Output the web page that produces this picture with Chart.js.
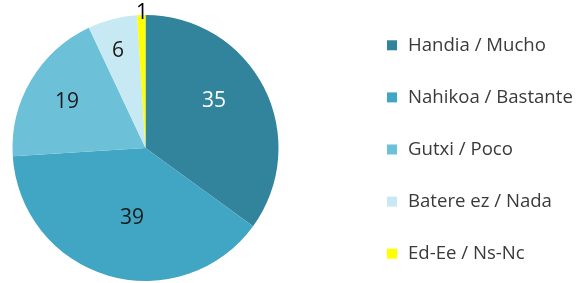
<!DOCTYPE html>
<html>
<head>
<meta charset="utf-8">
<script src="https://cdn.jsdelivr.net/npm/chart.js@4/dist/chart.umd.min.js"></script>
<style>
  html, body { margin: 0; padding: 0; background: #ffffff; }
  #wrap { position: relative; width: 576px; height: 283px; }
</style>
</head>
<body>
<div id="wrap"><canvas id="c" width="576" height="283"></canvas></div>
<script>
const categories = ["Handia / Mucho", "Nahikoa / Bastante", "Gutxi / Poco", "Batere ez / Nada", "Ed-Ee / Ns-Nc"];
const values = [35, 39, 19, 6, 1];
const sliceColors = ["#31849B", "#41A5C4", "#6CC1D8", "#C6E9F3", "#FFFF00"];
const labelColors = ["#ffffff", "#1a1a1a", "#1a1a1a", "#1a1a1a", "#000000"];
// label placement: fraction of radius, and angular nudge (degrees)
const labelRadius = [0.625, 0.536, 0.682, 0.76, 1.015];
const labelNudge = [-7.5, -5.3, -0.5, -1.4, 0.3];

const FONT = "'Open Sans', 'Liberation Sans', sans-serif";

const sliceLabels = {
  id: 'sliceLabels',
  afterDatasetsDraw(chart) {
    const ctx = chart.ctx;
    const meta = chart.getDatasetMeta(0);
    ctx.save();
    ctx.font = "21px " + FONT;
    ctx.textAlign = "center";
    ctx.textBaseline = "middle";
    meta.data.forEach((arc, i) => {
      const p = arc.getProps(['x', 'y', 'startAngle', 'endAngle', 'outerRadius'], true);
      const mid = (p.startAngle + p.endAngle) / 2 + labelNudge[i] * Math.PI / 180;
      const r = p.outerRadius * labelRadius[i];
      ctx.fillStyle = labelColors[i];
      ctx.fillText(String(values[i]), p.x + Math.cos(mid) * r, p.y + Math.sin(mid) * r);
    });
    ctx.restore();
  }
};

const sideLegend = {
  id: 'sideLegend',
  afterDraw(chart) {
    const ctx = chart.ctx;
    ctx.save();
    ctx.font = "18.6px " + FONT;
    ctx.textAlign = "left";
    ctx.textBaseline = "alphabetic";
    categories.forEach((name, i) => {
      const cy = 45.3 + i * 52.1;
      ctx.fillStyle = sliceColors[i];
      ctx.fillRect(387, cy - 5, 10, 10);
      ctx.fillStyle = "#3a3a3a";
      ctx.fillText(name, 408, cy + 5.5);
    });
    ctx.restore();
  }
};

new Chart(document.getElementById('c'), {
  type: 'pie',
  data: {
    labels: categories,
    datasets: [{
      data: values,
      backgroundColor: sliceColors,
      borderWidth: 0
    }]
  },
  options: {
    responsive: false,
    animation: false,
    rotation: 0,
    layout: { padding: { left: 12, top: 15, bottom: 2, right: 297 } },
    plugins: {
      legend: { display: false },
      tooltip: { enabled: false }
    }
  },
  plugins: [sliceLabels, sideLegend]
});
</script>
</body>
</html>
